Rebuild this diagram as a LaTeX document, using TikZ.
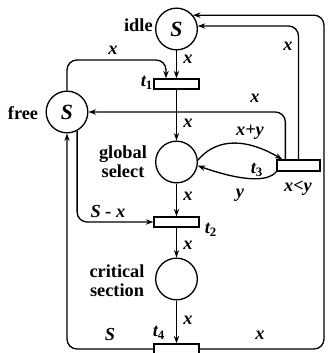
\documentclass[tikz,border=0pt]{standalone}
\usepackage{fontspec}
\setmainfont{Liberation Serif}
\usetikzlibrary{arrows.meta,calc}

\newcommand{\trn}[1]{\textbf{\textit{t}}\textsubscript{\textup{\textbf{#1}}}}

\tikzset{
  place/.style={circle, draw, line width=0.8pt, minimum size=25pt, inner sep=0pt,
    font=\fontsize{13}{14}\selectfont\bfseries\itshape},
  trans/.style={rectangle, draw, line width=0.8pt, minimum width=27pt, minimum height=6pt, inner sep=0pt},
  arc/.style={->, line width=0.8pt, rounded corners=6pt},
  lab/.style={font=\fontsize{11}{12}\selectfont\bfseries\itshape, inner sep=0pt},
  ptext/.style={font=\fontsize{11}{11.5}\selectfont\bfseries, align=center, inner sep=0pt}
}

\begin{document}
\begin{tikzpicture}[x=0.6pt, y=-0.6pt, >={Stealth[length=4.5pt,width=3.2pt]}]
    \useasboundingbox (0,0) rectangle (328,353);

    % Places and transitions
    \node[place] (idle) at (176.5,29) {S};
    \node[trans] (t1) at (176.5,84) {};
    \node[place] (free) at (67,112) {S};
    \node[place] (gs) at (176.5,162) {};
    \node[trans, minimum width=25.8pt, minimum height=6.6pt] (t3) at (298.5,165.5) {};
    \node[trans] (t2) at (176.5,222) {};
    \node[place] (cs) at (176.5,279) {};
    \node[trans] (t4) at (176.5,349) {};

    % Names of places and transitions
    \node[ptext, anchor=east] (idlename) at (153,25) {idle};
    \node[ptext] (freename) at (23,113) {free};
    \node[ptext] (gsname) at (123,162) {global\\select};
    \node[ptext] (csname) at (117,281) {critical\\section};
    \node[lab] (t1name) at (147,83) {\trn{1}};
    \node[lab] (t2name) at (211,230) {\trn{2}};
    \node[lab] (t3name) at (257,170) {\trn{3}};
    \node[lab] (t4name) at (159,333) {\trn{4}};
    \node[lab] (t3guard) at (298,188) {x<y};

    % Main chain
    \draw[arc] (idle.south) -- (t1.north);
    \draw[arc] (t1.south) -- (gs.north);
    \draw[arc] (gs.south) -- (t2.north);
    \draw[arc] (t2.south) -- (cs.north);
    \draw[arc] (cs.south) -- (t4.north);

    % free -> t1 and free -> t2
    \coordinate (ft) at (166,60);
    \draw[arc] (free.north) |- (ft) -- (ft |- t1.north);
    \draw[arc] (free.-62) |- (t2.west);

    % t3 back to free and idle
    \draw[arc] ($(t3.north west)+(9,0)$) |- (free.east);
    \draw[arc] (t3.north) |- (idle.8);

    % t4 back to free and idle
    \coordinate (rc) at (324,0);
    \draw[arc] (t4.west) -| (free.south);
    \draw[arc] (t4.east) -| (idle.40 -| rc) -- (idle.40);

    % global select <-> t3
    \draw[arc] (gs.5) .. controls +(15,-18) and +(-43,-25) .. ($(t3.north west)+(6,0)$);
    \draw[arc] (t3.south west) .. controls +(-9,11) and +(43,15) .. (gs.-10);

    % Arc inscriptions
    \node[lab] (lft) at (113,50) {x};
    \node[lab] (lit) at (188,59) {x};
    \node[lab] (ltg) at (188,123) {x};
    \node[lab] (ltf) at (255,98) {x};
    \node[lab] (lti) at (288,46) {x};
    \node[lab] (lgt3) at (250,132) {x+y};
    \node[lab] (lt3g) at (240,195) {y};
    \node[lab] (lgt2) at (188,196) {x};
    \node[lab] (lft2) at (108,212) {S - x};
    \node[lab] (ltc) at (188,245) {x};
    \node[lab] (lct) at (188,320) {x};
    \node[lab] (l4f) at (110,335) {S};
    \node[lab] (l4i) at (260,335) {x};
\end{tikzpicture}
\end{document}
